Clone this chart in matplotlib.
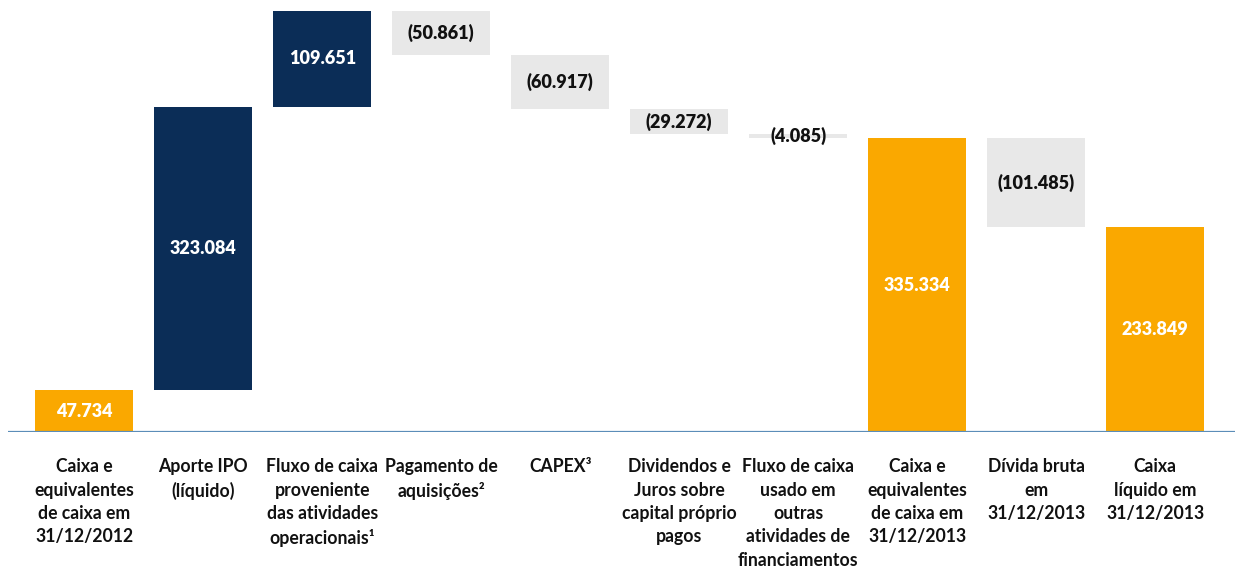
import numpy as np
import matplotlib
matplotlib.use("Agg")
import matplotlib.pyplot as plt

plt.rcParams['font.family'] = ['Lato', 'DejaVu Sans']

# Categories (x axis labels)
categories = [
    "Caixa e\nequivalentes\nde caixa em\n31/12/2012",
    "Aporte IPO\n(líquido)",
    "Fluxo de caixa\nproveniente\ndas atividades\noperacionais¹",
    "Pagamento de\naquisições²",
    "CAPEX³",
    "Dividendos e\nJuros sobre\ncapital próprio\npagos",
    "Fluxo de caixa\nusado em\noutras\natividades de\nfinanciamentos",
    "Caixa e\nequivalentes\nde caixa em\n31/12/2013",
    "Dívida bruta\nem\n31/12/2013",
    "Caixa\nlíquido em\n31/12/2013",
]

# values in R$ thousand; kind: 'total' bars start at zero, 'up'/'down' are steps
values = [47734, 323084, 109651, -50861, -60917, -29272, -4085, 335334, -101485, 233849]
kinds = ['total', 'up', 'up', 'down', 'down', 'down', 'down', 'total', 'down', 'total']

colors = {'total': '#FAA800', 'up': '#0B2D57', 'down': '#E8E8E8'}
text_colors = {'total': 'white', 'up': 'white', 'down': '#111111'}

# waterfall bottoms/heights
bottoms = []
heights = []
running = 0
for v, k in zip(values, kinds):
    if k == 'total':
        bottoms.append(0)
        heights.append(v)
        running = v
    elif v >= 0:
        bottoms.append(running)
        heights.append(v)
        running += v
    else:
        bottoms.append(running + v)
        heights.append(-v)
        running += v

def fmt(v):
    s = f"{abs(v):,}".replace(",", ".")
    return f"({s})" if v < 0 else s

fig = plt.figure(figsize=(12.35, 5.7), dpi=100)
ax = fig.add_axes([0.0065, 0.242, 0.9935, 0.74])

x = np.arange(len(values))
ax.bar(x, heights, bottom=bottoms, width=0.82,
       color=[colors[k] for k in kinds], linewidth=0)

for xi, b, h, v, k in zip(x, bottoms, heights, values, kinds):
    ax.text(xi, b + h / 2, fmt(v), ha='center', va='center',
            fontsize=13, fontweight='heavy', color=text_colors[k])

for xi, lab in zip(x, categories):
    ax.annotate(lab, xy=(xi, 0), xytext=(0, -19), textcoords='offset points',
                ha='center', va='top', fontsize=12.7, fontweight='bold',
                color='#111111', linespacing=1.45)

ax.axhline(0, color='#5B8DB8', linewidth=1.6)
ax.set_xlim(-0.64, 9.67)
ax.set_ylim(0, 481000)
ax.axis('off')

fig.savefig("out.png", dpi=100)
